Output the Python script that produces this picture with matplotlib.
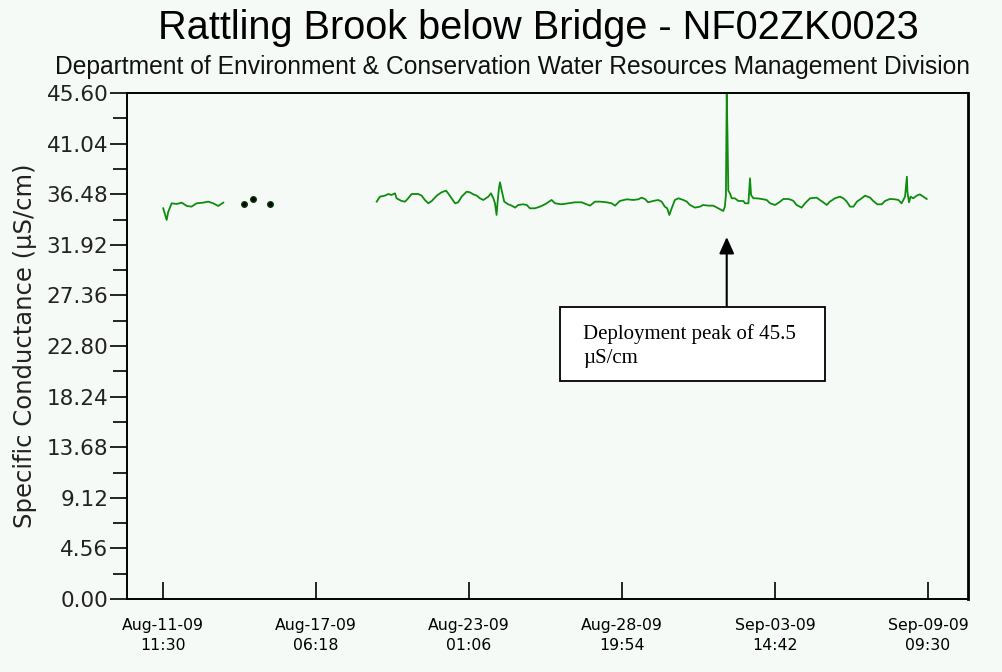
import matplotlib
matplotlib.use("Agg")
import matplotlib.pyplot as plt
from matplotlib.ticker import FixedLocator
from matplotlib.patches import Rectangle

# ---- data (days since Aug-11-09 11:30, specific conductance uS/cm) ----
seg1_t = [0.01, 0.14, 0.20, 0.33, 0.52, 0.71, 0.90, 1.08, 1.27, 1.52, 1.71, 1.90, 2.09, 2.28]
seg1_v = [35.21, 34.16, 34.90, 35.66, 35.60, 35.72, 35.42, 35.36, 35.66, 35.72, 35.81, 35.66, 35.42, 35.72]

dots_t = [3.06, 3.40, 4.04]
dots_v = [35.60, 36.05, 35.60]

seg2_t = [8.08, 8.20, 8.39, 8.52, 8.64, 8.77, 8.83, 9.02, 9.15, 9.27, 9.40, 9.65, 9.78, 9.90,
          10.03, 10.16, 10.35, 10.53, 10.70, 10.78, 10.91, 11.04, 11.16, 11.29, 11.48, 11.60,
          11.73, 11.86, 11.98, 12.11, 12.30, 12.40, 12.49, 12.55, 12.61, 12.65, 12.70, 12.74,
          12.80, 12.90, 13.05, 13.18, 13.31, 13.43, 13.62, 13.75, 13.87, 14.06, 14.25, 14.44,
          14.69, 14.82, 15.07, 15.32, 15.57, 15.83, 16.01, 16.14, 16.33, 16.52, 16.77, 16.96,
          17.09, 17.27, 17.53, 17.78, 17.97, 18.09, 18.22, 18.34, 18.53, 18.72, 18.85, 18.97,
          19.06, 19.14, 19.23, 19.35, 19.48, 19.67, 19.80, 19.92, 20.11, 20.30, 20.42, 20.61,
          20.80, 20.99, 21.18, 21.24, 21.28, 21.31, 21.34, 21.37, 21.43, 21.50, 21.62, 21.75,
          21.94, 22.00, 22.13, 22.19, 22.23, 22.32, 22.44, 22.63, 22.82, 22.95, 23.14, 23.33,
          23.45, 23.64, 23.76, 23.83, 23.95, 24.14, 24.27, 24.46, 24.71, 24.83, 24.96, 25.09,
          25.21, 25.40, 25.59, 25.72, 25.85, 25.97, 26.10, 26.23, 26.41, 26.54, 26.73, 26.85,
          27.00, 27.17, 27.29, 27.48, 27.67, 27.80, 27.92, 28.05, 28.12, 28.14, 28.20, 28.26,
          28.36, 28.49, 28.61, 28.74, 28.87]
seg2_v = [35.81, 36.26, 36.35, 36.50, 36.41, 36.56, 36.11, 35.87, 35.81, 36.11, 36.50, 36.50, 36.35, 35.96,
          35.66, 35.87, 36.35, 36.65, 36.80, 36.56, 36.11, 35.66, 35.75, 36.26, 36.71, 36.65,
          36.47, 36.35, 36.11, 35.96, 36.26, 36.56, 36.11, 35.66, 34.61, 35.81, 37.01, 37.55,
          36.86, 35.81, 35.57, 35.45, 35.27, 35.51, 35.57, 35.51, 35.21, 35.21, 35.36, 35.57,
          35.96, 35.66, 35.57, 35.66, 35.75, 35.75, 35.57, 35.45, 35.81, 35.81, 35.75, 35.66,
          35.45, 35.87, 36.02, 35.96, 36.02, 36.17, 36.05, 35.75, 35.87, 35.96, 35.81, 35.36,
          35.21, 34.61, 35.21, 35.96, 36.11, 35.96, 35.81, 35.51, 35.27, 35.36, 35.51, 35.45,
          35.45, 35.21, 34.97, 35.36, 36.41, 45.50, 41.64, 36.80, 36.56, 36.11, 36.11, 35.87,
          35.87, 35.66, 35.66, 37.91, 36.41, 36.11, 36.11, 36.05, 35.96, 35.66, 35.51, 35.81,
          36.05, 36.05, 35.96, 35.87, 35.51, 35.27, 35.66, 36.11, 36.17, 35.96, 35.75, 35.51,
          35.81, 36.11, 36.26, 36.11, 35.81, 35.36, 35.36, 35.81, 36.11, 36.35, 36.17, 35.87,
          35.57, 35.57, 35.87, 36.05, 36.02, 35.96, 35.66, 36.26, 38.06, 36.71, 35.75, 36.26,
          36.11, 36.35, 36.47, 36.26, 36.05]

x_ticks = [0.0, 5.7833, 11.5667, 17.35, 23.1333, 28.9167]
x_labels = ["Aug-11-09\n11:30", "Aug-17-09\n06:18", "Aug-23-09\n01:06",
            "Aug-28-09\n19:54", "Sep-03-09\n14:42", "Sep-09-09\n09:30"]
y_ticks = [0.0, 4.56, 9.12, 13.68, 18.24, 22.80, 27.36, 31.92, 36.48, 41.04, 45.60]
y_minor = [2.28, 6.84, 11.40, 15.96, 20.52, 25.08, 29.64, 34.20, 38.76, 43.32]

title = "Rattling Brook below Bridge - NF02ZK0023"
subtitle = "Department of Environment & Conservation Water Resources Management Division"
ylabel = "Specific Conductance (\u00b5S/cm)"
note = "Deployment peak of 45.5\n\u00b5S/cm"
peak_t = 21.31

bg = "#f6faf7"
green = "#0e8c0e"

fig = plt.figure(figsize=(10.03, 6.72), dpi=100, facecolor=bg)
ax = fig.add_axes([0.1266, 0.1086, 0.8385, 0.7530])
ax.set_facecolor(bg)

ax.plot(seg1_t, seg1_v, color=green, lw=1.3)
ax.plot(seg2_t, seg2_v, color=green, lw=1.3)
ax.plot(dots_t, dots_v, 'o', color="black", ms=4, mec="#0a3a0a")

ax.set_xlim(-1.36, 30.43)
ax.set_ylim(0, 45.6)

ax.set_xticks(x_ticks)
ax.set_xticklabels(x_labels, fontsize=11.3, family="DejaVu Sans", linespacing=1.4)
ax.tick_params(axis="x", direction="in", length=12, width=1.2, pad=14)

ax.set_yticks(y_ticks)
ax.set_yticklabels([f"{v:.2f}" for v in y_ticks], fontsize=15.5, color="#222222")
ax.yaxis.set_minor_locator(FixedLocator(y_minor))
ax.tick_params(axis="y", which="major", direction="out", length=12.5, width=1.2, pad=1)
ax.tick_params(axis="y", which="minor", direction="out", length=10, width=1.2)

for s in ax.spines.values():
    s.set_linewidth(1.4)
    s.set_color("black")
ax.spines["right"].set_linewidth(2)

ax.set_ylabel(ylabel, fontsize=17.5, color="#222222", labelpad=7)

fig.text(0.537, 0.958, title, ha="center", va="center", fontsize=28.6,
         family="Liberation Sans", color="black")
fig.text(0.511, 0.900, subtitle, ha="center", va="center", fontsize=17.7,
         family="Liberation Sans", color="#111111")

ax.annotate("", xy=(peak_t, (599 - 237) / 506 * 45.6), xycoords="data",
            xytext=(peak_t, (599 - 307) / 506 * 45.6), textcoords="data",
            arrowprops=dict(arrowstyle="-|>,head_length=1.0,head_width=0.45",
                            color="black", lw=1.5, shrinkA=0, shrinkB=0))
box = Rectangle((0.5583, 0.4330), 0.2642, 0.1101, transform=fig.transFigure,
                fc="white", ec="black", lw=1.3, zorder=5, clip_on=False)
ax.add_patch(box)
ax.text(0.5813, 0.4845, note, transform=fig.transFigure, ha="left", va="center",
        fontsize=15, family="Liberation Serif", linespacing=1.35, zorder=6)

fig.savefig("out.png", dpi=100, facecolor=bg)
